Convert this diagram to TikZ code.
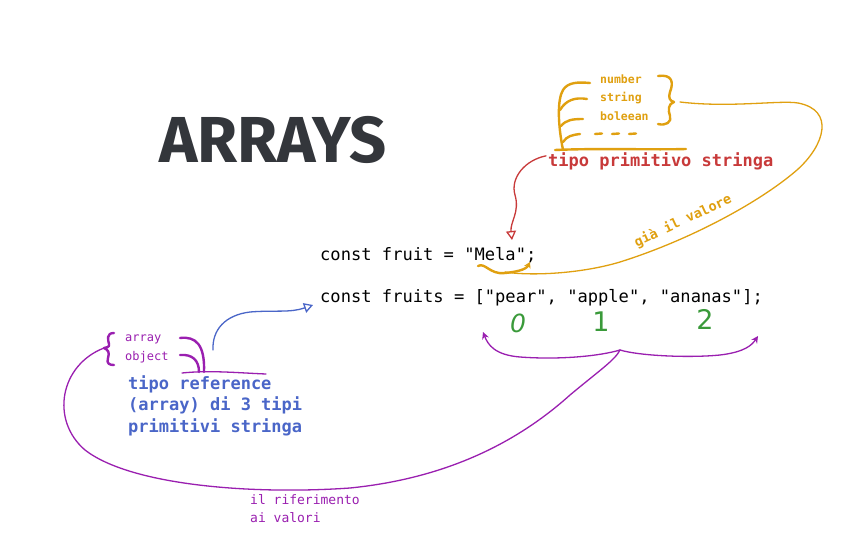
\documentclass[tikz,border=0pt]{standalone}
\usepackage{fontspec}
\setmainfont{DejaVu Sans}
\newfontfamily\codefont{DejaVu Sans Mono}
\newfontfamily\titlefont{Fira Sans}
\usetikzlibrary{arrows.meta}

\definecolor{inkorange}{HTML}{E0A010}
\definecolor{inkred}{HTML}{C83A3A}
\definecolor{inkblue}{HTML}{4A66C8}
\definecolor{inkpurple}{HTML}{9A1FB0}
\definecolor{inkgreen}{HTML}{3A9A3A}
\definecolor{inkdark}{HTML}{33363B}

\tikzset{
  code/.style={font=\codefont\fontsize{17.1}{20}\selectfont, inner sep=0pt, anchor=base west},
  remark/.style={font=\codefont\bfseries\fontsize{17}{21.5}\selectfont, inner sep=0pt, anchor=base west, align=left},
  small/.style={font=\codefont\fontsize{12}{19}\selectfont, inner sep=0pt, anchor=base west, align=left},
  digit/.style={font=\fontsize{27}{30}\selectfont, text=inkgreen, inner sep=0pt},
  pen/.style={line cap=round, line join=round, line width=1.3pt},
  fatpen/.style={line cap=round, line join=round, line width=2.4pt},
}

\begin{document}
\begin{tikzpicture}[x=1pt, y=-1pt]
  \useasboundingbox[fill=white] (0,0) rectangle (849,554);

  % title and code
  \node[font=\titlefont\bfseries\fontsize{65}{65}\selectfont, text=inkdark, inner sep=0pt] (title) at (273,140) {ARRAYS};
  \node[code] (single) at (320,260) {const fruit = "Mela";};
  \node[code] (list) at (320,302) {const fruits = ["pear", "apple", "ananas"];};
  \node[digit, font=\itshape\fontsize{25}{30}\selectfont] (zero) at (518,323) {0};
  \node[digit] (one) at (601,322) {1};
  \node[digit] (two) at (705,319) {2};

  % primitive types (orange)
  \node[small, font=\codefont\bfseries\fontsize{11.5}{18.5}\selectfont, text=inkorange] (types) at (600,120) {number\\string\\boleean};
  \node[remark, text=inkred] (prim) at (548,166) {tipo primitivo stringa};
  \node[font=\codefont\bfseries\fontsize{13.5}{15}\selectfont, text=inkorange, rotate=25] (value) at (683,221) {già il valore};

  % reference types (purple / blue)
  \node[small, text=inkpurple] (kinds) at (125,360) {array\\object};
  \node[remark, text=inkblue] (ref) at (128,432) {tipo reference\\(array) di 3 tipi\\primitivi stringa};
  \node[small, font=\codefont\fontsize{13}{18}\selectfont, text=inkpurple] (link) at (250,522) {il riferimento\\ai valori};

  \coordinate (bracetip) at (673,102);
  \coordinate (mela) at (512,240);
  \coordinate (meladot) at (530,262);
  \coordinate (arrtip) at (313,305);
  \coordinate (mid) at (620,350);
  \coordinate (lefttip) at (483,332);
  \coordinate (righttip) at (758,336);
  \coordinate (kbrace) at (104,348);

  % orange tree
  \draw[fatpen, inkorange] (563,150) .. controls (558,125) and (557,100) .. (563,90)
    .. controls (568,82) and (578,82) .. (590,83);
  \draw[fatpen, inkorange] (560,110) .. controls (566,100) and (575,97) .. (587,99);
  \draw[fatpen, inkorange] (561,126) .. controls (566,120) and (572,119) .. (583,119);
  \draw[fatpen, inkorange] (563,142) .. controls (567,136) and (572,135) .. (580,134);
  \foreach \x in {595,612,629}
    \draw[fatpen, inkorange] (\x,134) -- ++(7,-0.5);
  \draw[fatpen, inkorange] (555,150) .. controls (600,148) and (650,150) .. (686,149);
  \draw[fatpen, inkorange] (658,76) .. controls (672,74) and (674,82) .. (670,92)
    .. controls (668,98) and (670,101) .. (674,102)
    .. controls (668,104) and (668,110) .. (670,116)
    .. controls (672,122) and (666,126) .. (658,124);
  \draw[pen, inkorange] (bracetip) ++(7,0) .. controls (730,108) and (780,100) .. (798,103)
    .. controls (835,110) and (825,145) .. (797,170)
    .. controls (760,202) and (690,240) .. (620,262)
    .. controls (580,274) and (530,276) .. (505,272);
  \draw[fatpen, inkorange, -{Stealth[length=6pt, width=7pt]}] (478,266) .. controls (485,262) and (490,275) .. (505,273)
    .. controls (515,272) and (526,270) .. (meladot);

  % red arrow
  \draw[pen, inkred, -{Triangle[open, length=9pt, width=10pt]}] (prim.west) ++(-2,-5)
    .. controls (525,160) and (510,178) .. (515,195)
    .. controls (520,212) and (510,222) .. (mela);

  % purple brace and strokes
  \draw[fatpen, inkpurple] (114,333) .. controls (106,333) and (108,340) .. (109,344)
    .. controls (110,347) and (106,348) .. (kbrace)
    .. controls (108,350) and (110,352) .. (108,358)
    .. controls (106,364) and (110,365) .. (114,365);
  \draw[fatpen, inkpurple] (180,338) .. controls (196,336) and (205,345) .. (204,372);
  \draw[fatpen, inkpurple] (180,355) .. controls (192,354) and (199,360) .. (199,372);
  \draw[pen, inkpurple] (182,373) .. controls (210,370) and (240,373) .. (266,374);

  % blue arrow
  \draw[pen, inkblue, -{Triangle[open, length=9pt, width=10pt]}] (213,350)
    .. controls (212,330) and (225,315) .. (250,312)
    .. controls (275,310) and (290,313) .. (arrtip);

  % purple reference curve
  \draw[pen, inkpurple] (kbrace) .. controls (60,365) and (50,420) .. (85,450)
    .. controls (130,485) and (250,495) .. (350,488)
    .. controls (450,478) and (520,440) .. (570,395)
    .. controls (600,370) and (615,360) .. (mid);
  \draw[pen, inkpurple, -{Stealth[length=7pt, width=7pt]}] (mid)
    .. controls (600,356) and (560,360) .. (520,357)
    .. controls (495,355) and (488,345) .. (lefttip);
  \draw[pen, inkpurple, -{Stealth[length=7pt, width=7pt]}] (mid)
    .. controls (640,356) and (690,358) .. (720,355)
    .. controls (745,352) and (752,345) .. (righttip);
\end{tikzpicture}
\end{document}
